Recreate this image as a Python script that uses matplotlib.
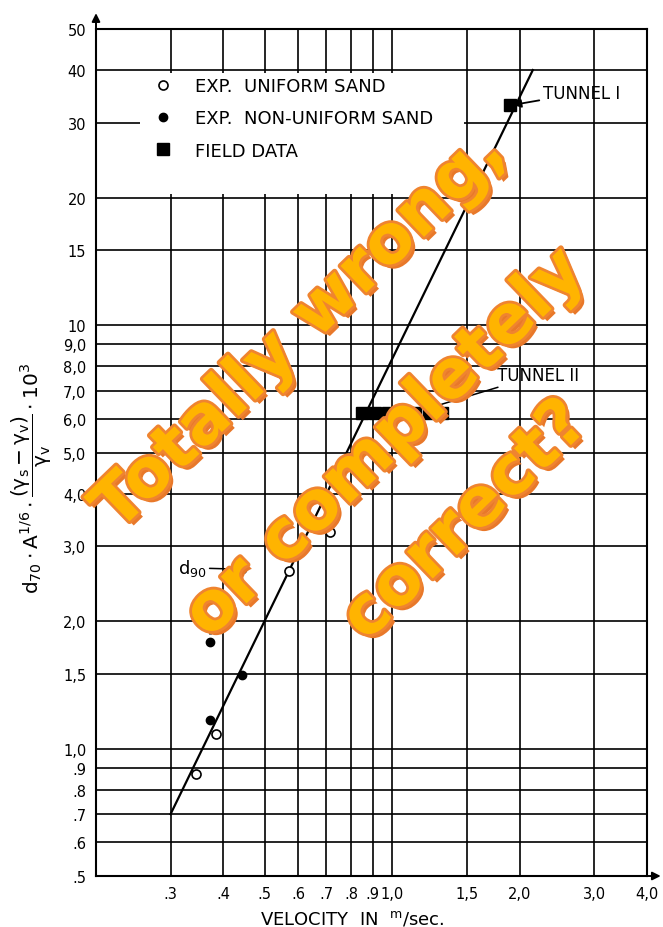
import matplotlib
matplotlib.use("Agg")
import matplotlib.pyplot as plt
import matplotlib.patheffects as pe
from matplotlib.patches import Rectangle

plt.rcParams['mathtext.default'] = 'regular'

# --- data ---
uniform_v = [0.344, 0.384, 0.571, 0.714]
uniform_y = [0.87, 1.08, 2.62, 3.25]

nonuniform_v = [0.372, 0.372, 0.442, 0.442]
nonuniform_y = [1.78, 1.17, 1.49, 2.65]

field_v = [1.90, 0.85, 0.91, 0.98, 1.05, 1.13, 1.22, 1.31]
field_y = [33.0, 6.2, 6.2, 6.2, 6.2, 6.2, 6.2, 6.2]

fit_v = [0.3, 2.15]
fit_y = [0.7, 40.0]

# short vertical mark above the lowest d90 point
mark_v = 0.372
mark_lo, mark_hi = 1.86, 2.02

x_ticks = [0.3, 0.4, 0.5, 0.6, 0.7, 0.8, 0.9, 1.0, 1.5, 2.0, 3.0, 4.0]
x_labels = ['.3', '.4', '.5', '.6', '.7', '.8', '.9', '1,0', '1,5', '2,0', '3,0', '4,0']
y_ticks = [0.5, 0.6, 0.7, 0.8, 0.9, 1.0, 1.5, 2.0, 3.0, 4.0, 5.0, 6.0, 7.0, 8.0, 9.0,
           10, 15, 20, 30, 40, 50]
y_labels = ['.5', '.6', '.7', '.8', '.9', '1,0', '1,5', '2,0', '3,0', '4,0', '5,0', '6,0',
            '7,0', '8,0', '9,0', '10', '15', '20', '30', '40', '50']

W, H = 663, 928
fig = plt.figure(figsize=(W / 100, H / 100), dpi=100)
ax = fig.add_axes([96 / W, 1 - 877 / H, (647 - 96) / W, (877 - 30) / H])

ax.set_xscale('log')
ax.set_yscale('log')
ax.set_xlim(0.2, 4.0)
ax.set_ylim(0.5, 50)

ax.set_xticks(x_ticks)
ax.set_xticklabels(x_labels, fontsize=10.5)
ax.set_yticks(y_ticks)
ax.set_yticklabels(y_labels, fontsize=10.5)
ax.minorticks_off()
ax.tick_params(length=0, pad=7)

ax.grid(True, which='major', color='black', linewidth=1.2)
ax.set_axisbelow(True)
for s in ax.spines.values():
    s.set_linewidth(1.5)

# white area behind the legend hides the grid there
ax.add_patch(Rectangle((0.08, 0.805), 0.588, 0.143, transform=ax.transAxes,
                       facecolor='white', edgecolor='none', zorder=1.5))

# regression line
ax.plot(fit_v, fit_y, color='black', linewidth=1.6, zorder=3)

# data
ax.plot(uniform_v, uniform_y, 'o', mfc='white', mec='black', mew=1.2, ms=6.5,
        label='EXP.  UNIFORM SAND', zorder=4)
ax.plot(nonuniform_v, nonuniform_y, 'o', color='black', ms=6,
        label='EXP.  NON-UNIFORM SAND', zorder=4)
ax.plot(field_v, field_y, 's', color='black', ms=8.5,
        label='FIELD DATA', zorder=4)
ax.vlines(mark_v, mark_lo, mark_hi, color='black', linewidth=2, zorder=4)

leg = ax.legend(loc='upper left', bbox_to_anchor=(0.095, 0.952), frameon=False,
                fontsize=13, handlelength=0.8, handletextpad=1.4,
                labelspacing=0.8, numpoints=1, borderaxespad=0)
leg.set_zorder(5)

# annotations
ax.annotate('TUNNEL I', xy=(field_v[0], field_y[0]), xytext=(24, 9),
            textcoords='offset points', fontsize=12, va='center', ha='left',
            arrowprops=dict(arrowstyle='-|>', color='black', lw=1.3,
                            shrinkA=1, shrinkB=2))
ax.annotate('TUNNEL II', xy=(1.31, 6.5), xytext=(40, 21),
            textcoords='offset points', fontsize=12, va='center', ha='left',
            arrowprops=dict(arrowstyle='-', color='black', lw=1.1,
                            shrinkA=1, shrinkB=0))
ax.annotate(r'd$_{90}$', xy=(nonuniform_v[3], nonuniform_y[3]), xytext=(-46, 1),
            textcoords='offset points', fontsize=13, va='center', ha='left',
            arrowprops=dict(arrowstyle='-', color='black', lw=1.1,
                            shrinkA=0, shrinkB=9))

# axis arrows
ax.annotate('', xy=(0, 1.022), xytext=(0, 0.99), xycoords='axes fraction',
            arrowprops=dict(arrowstyle='-|>', color='black', lw=1.4,
                            mutation_scale=12), annotation_clip=False)
ax.annotate('', xy=(1.03, 0), xytext=(0.99, 0), xycoords='axes fraction',
            arrowprops=dict(arrowstyle='-|>', color='black', lw=1.4,
                            mutation_scale=12), annotation_clip=False)

ax.set_xlabel(r'VELOCITY  IN  $^{m}$/sec.', fontsize=13)
ax.xaxis.set_label_coords(0.465, -0.038)
ax.set_ylabel(r'$d_{70}\cdot A^{1/6}\cdot\dfrac{(\gamma_s-\gamma_v)}{\gamma_v}\cdot 10^3$',
              fontsize=14.5)
ax.yaxis.set_label_coords(-0.076, 0.47)

# overlay caption
effects = [pe.withSimplePatchShadow(offset=(3, -3), shadow_rgbFace='#E8782A', alpha=1.0),
           pe.Stroke(linewidth=4, foreground='#EF8430'), pe.Normal()]
caption = ['Totally wrong,', 'or completely', 'correct?']
centers = [(300, 332), (385, 445), (465, 522)]
for line, (cx, cy) in zip(caption, centers):
    fig.text(cx / W, 1 - cy / H, line, fontsize=49, fontweight='bold',
             color='#FFB400', rotation=44, rotation_mode='anchor',
             ha='center', va='center', path_effects=effects, zorder=10)

fig.savefig('out.png', dpi=100)
